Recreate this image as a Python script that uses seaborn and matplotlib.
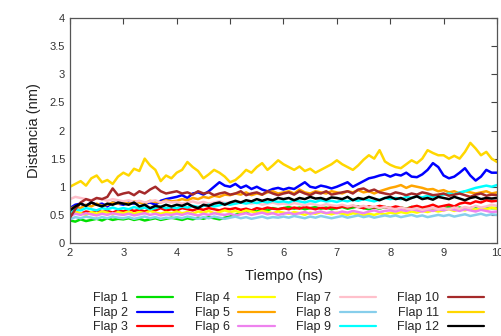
import numpy as np
import pandas as pd
import matplotlib
matplotlib.use('Agg')
import matplotlib.pyplot as plt
import seaborn as sns

# tiempo en ns, paso 0.1
tiempo = np.round(np.arange(2.0, 10.05, 0.1), 1)

flap1 = [0.40, 0.38, 0.42, 0.39, 0.41, 0.43, 0.40, 0.44, 0.41, 0.43,
         0.42, 0.44, 0.41, 0.43, 0.40, 0.42, 0.44, 0.41, 0.43, 0.45,
         0.43, 0.41, 0.44, 0.42, 0.45, 0.43, 0.46, 0.44, 0.42, 0.45,
         0.47, 0.50, 0.53, 0.55, 0.58, 0.56, 0.60, 0.58, 0.62, 0.60,
         0.62, 0.64, 0.61, 0.63, 0.60, 0.62, 0.64, 0.61, 0.63, 0.60,
         0.62, 0.64, 0.61, 0.63, 0.65, 0.62, 0.60, 0.63, 0.61, 0.64,
         0.62, 0.60, 0.63, 0.61, 0.64, 0.62, 0.60, 0.63, 0.61, 0.63,
         0.62, 0.64, 0.61, 0.63, 0.60, 0.62, 0.64, 0.61, 0.63, 0.62,
         0.62]
flap2 = [0.62, 0.68, 0.70, 0.66, 0.72, 0.68, 0.70, 0.65, 0.72, 0.70,
         0.68, 0.72, 0.70, 0.74, 0.70, 0.72, 0.68, 0.75, 0.78, 0.80,
         0.82, 0.85, 0.80, 0.88, 0.90, 0.86, 0.92, 1.00, 1.08, 1.02,
         1.00, 1.05, 0.98, 1.02, 0.96, 1.00, 0.95, 0.92, 0.96, 0.98,
         0.95, 0.98, 0.96, 1.02, 1.08, 1.00, 0.98, 1.02, 1.00, 0.97,
         1.00, 1.04, 1.08, 1.00, 1.05, 1.10, 1.15, 1.17, 1.20, 1.22,
         1.18, 1.22, 1.20, 1.25, 1.18, 1.17, 1.22, 1.30, 1.42, 1.35,
         1.20, 1.15, 1.18, 1.25, 1.33, 1.20, 1.11, 1.18, 1.30, 1.25,
         1.25]
flap3 = [0.50, 0.55, 0.52, 0.56, 0.54, 0.58, 0.55, 0.57, 0.54, 0.58,
         0.56, 0.60, 0.57, 0.59, 0.56, 0.60, 0.58, 0.62, 0.58, 0.60,
         0.58, 0.62, 0.60, 0.58, 0.61, 0.59, 0.62, 0.60, 0.58, 0.61,
         0.60, 0.62, 0.59, 0.61, 0.58, 0.62, 0.60, 0.63, 0.61, 0.60,
         0.62, 0.60, 0.63, 0.61, 0.64, 0.62, 0.60, 0.63, 0.61, 0.64,
         0.62, 0.65, 0.63, 0.66, 0.64, 0.62, 0.65, 0.63, 0.66, 0.64,
         0.62, 0.65, 0.63, 0.60, 0.64, 0.66, 0.63, 0.65, 0.68, 0.64,
         0.66, 0.68, 0.65, 0.70, 0.72, 0.70, 0.74, 0.72, 0.76, 0.74,
         0.75]
flap4 = [0.50, 0.55, 0.53, 0.50, 0.55, 0.52, 0.56, 0.54, 0.51, 0.55,
         0.53, 0.56, 0.52, 0.55, 0.53, 0.57, 0.54, 0.52, 0.55, 0.53,
         0.56, 0.53, 0.55, 0.52, 0.56, 0.54, 0.57, 0.53, 0.55, 0.58,
         0.55, 0.57, 0.54, 0.58, 0.56, 0.54, 0.57, 0.55, 0.53, 0.56,
         0.54, 0.52, 0.55, 0.53, 0.50, 0.54, 0.52, 0.55, 0.53, 0.51,
         0.54, 0.52, 0.50, 0.53, 0.51, 0.49, 0.52, 0.50, 0.53, 0.51,
         0.54, 0.52, 0.55, 0.53, 0.56, 0.54, 0.57, 0.55, 0.58, 0.56,
         0.58, 0.60, 0.57, 0.60, 0.58, 0.61, 0.59, 0.62, 0.60, 0.63,
         0.61]
flap5 = [0.60, 0.65, 0.62, 0.68, 0.65, 0.70, 0.66, 0.68, 0.72, 0.70,
         0.72, 0.70, 0.74, 0.72, 0.70, 0.75, 0.73, 0.72, 0.76, 0.74,
         0.75, 0.78, 0.76, 0.80, 0.78, 0.82, 0.80, 0.84, 0.82, 0.86,
         0.85, 0.88, 0.86, 0.90, 0.85, 0.88, 0.86, 0.90, 0.92, 0.88,
         0.90, 0.92, 0.88, 0.95, 0.90, 0.88, 0.92, 0.90, 0.88, 0.92,
         0.90, 0.88, 0.92, 0.90, 0.94, 0.90, 0.92, 0.88, 0.92, 0.95,
         0.98, 1.00, 1.03, 0.98, 1.02, 1.00, 0.98, 0.95, 0.96, 0.92,
         0.94, 0.90, 0.92, 0.88, 0.92, 0.90, 0.88, 0.90, 0.92, 0.88,
         0.90]
flap6 = [0.48, 0.52, 0.50, 0.53, 0.51, 0.49, 0.52, 0.50, 0.53, 0.51,
         0.50, 0.52, 0.49, 0.51, 0.53, 0.50, 0.52, 0.49, 0.51, 0.50,
         0.52, 0.50, 0.53, 0.51, 0.49, 0.52, 0.50, 0.53, 0.51, 0.50,
         0.52, 0.49, 0.51, 0.53, 0.50, 0.52, 0.54, 0.51, 0.53, 0.50,
         0.52, 0.54, 0.51, 0.53, 0.55, 0.52, 0.54, 0.56, 0.53, 0.55,
         0.53, 0.56, 0.54, 0.57, 0.55, 0.53, 0.56, 0.58, 0.55, 0.57,
         0.58, 0.56, 0.59, 0.57, 0.60, 0.58, 0.56, 0.59, 0.57, 0.60,
         0.58, 0.61, 0.59, 0.57, 0.60, 0.58, 0.56, 0.59, 0.57, 0.55,
         0.56]
flap7 = [0.78, 0.82, 0.80, 0.78, 0.76, 0.80, 0.78, 0.75, 0.78, 0.76,
         0.74, 0.76, 0.73, 0.75, 0.72, 0.74, 0.76, 0.72, 0.74, 0.72,
         0.73, 0.70, 0.72, 0.74, 0.71, 0.73, 0.70, 0.72, 0.74, 0.71,
         0.72, 0.70, 0.73, 0.71, 0.70, 0.72, 0.68, 0.70, 0.72, 0.69,
         0.70, 0.68, 0.71, 0.69, 0.67, 0.70, 0.68, 0.66, 0.69, 0.67,
         0.66, 0.68, 0.65, 0.67, 0.64, 0.66, 0.63, 0.65, 0.62, 0.64,
         0.62, 0.60, 0.63, 0.61, 0.60, 0.62, 0.59, 0.61, 0.63, 0.60,
         0.62, 0.60, 0.63, 0.61, 0.64, 0.62, 0.66, 0.63, 0.65, 0.68,
         0.66]
flap8 = [0.42, 0.46, 0.44, 0.47, 0.45, 0.43, 0.46, 0.44, 0.47, 0.45,
         0.44, 0.46, 0.43, 0.45, 0.47, 0.44, 0.46, 0.43, 0.45, 0.44,
         0.46, 0.44, 0.47, 0.45, 0.43, 0.46, 0.44, 0.47, 0.45, 0.43,
         0.45, 0.47, 0.44, 0.46, 0.43, 0.45, 0.47, 0.44, 0.46, 0.45,
         0.47, 0.45, 0.48, 0.46, 0.44, 0.47, 0.45, 0.48, 0.46, 0.44,
         0.46, 0.48, 0.45, 0.47, 0.49, 0.46, 0.48, 0.45, 0.47, 0.49,
         0.47, 0.49, 0.46, 0.48, 0.50, 0.47, 0.49, 0.46, 0.48, 0.50,
         0.48, 0.50, 0.47, 0.49, 0.51, 0.48, 0.50, 0.52, 0.49, 0.51,
         0.50]
flap9 = [0.55, 0.60, 0.58, 0.62, 0.60, 0.58, 0.62, 0.60, 0.63, 0.60,
         0.62, 0.60, 0.64, 0.61, 0.63, 0.60, 0.62, 0.65, 0.62, 0.64,
         0.62, 0.65, 0.63, 0.66, 0.64, 0.66, 0.68, 0.65, 0.67, 0.70,
         0.68, 0.70, 0.72, 0.70, 0.73, 0.71, 0.74, 0.72, 0.75, 0.73,
         0.74, 0.72, 0.76, 0.74, 0.72, 0.75, 0.73, 0.76, 0.74, 0.75,
         0.73, 0.76, 0.74, 0.77, 0.75, 0.78, 0.76, 0.74, 0.77, 0.80,
         0.78, 0.80, 0.78, 0.82, 0.80, 0.83, 0.81, 0.84, 0.82, 0.85,
         0.86, 0.88, 0.86, 0.90, 0.92, 0.95, 0.98, 1.00, 1.02, 1.00,
         1.03]
flap10 = [0.45, 0.60, 0.72, 0.78, 0.75, 0.80, 0.78, 0.82, 0.97, 0.85,
          0.88, 0.90, 0.85, 0.92, 0.88, 0.95, 1.00, 0.92, 0.88, 0.90,
          0.92, 0.88, 0.90, 0.86, 0.92, 0.88, 0.90, 0.85, 0.88, 0.90,
          0.86, 0.88, 0.92, 0.85, 0.88, 0.90, 0.86, 0.92, 0.88, 0.85,
          0.88, 0.90, 0.86, 0.92, 0.88, 0.85, 0.90, 0.88, 0.92, 0.86,
          0.88, 0.90, 0.92, 0.88, 0.95, 0.97, 0.92, 0.95, 0.90, 0.88,
          0.86, 0.90, 0.88, 0.85, 0.88, 0.86, 0.90, 0.88, 0.85, 0.86,
          0.88, 0.84, 0.86, 0.88, 0.85, 0.82, 0.86, 0.88, 0.84, 0.86,
          0.85]
flap11 = [1.00, 1.05, 1.10, 1.02, 1.15, 1.20, 1.08, 1.12, 1.05, 1.18,
          1.25, 1.20, 1.32, 1.28, 1.50, 1.38, 1.30, 1.10, 1.20, 1.15,
          1.25, 1.30, 1.44, 1.35, 1.28, 1.15, 1.22, 1.30, 1.25, 1.18,
          1.08, 1.12, 1.20, 1.30, 1.25, 1.35, 1.42, 1.30, 1.38, 1.47,
          1.40, 1.35, 1.30, 1.36, 1.28, 1.32, 1.25, 1.30, 1.35, 1.40,
          1.47, 1.40, 1.35, 1.30, 1.38, 1.48, 1.56, 1.50, 1.65, 1.45,
          1.39, 1.35, 1.33, 1.40, 1.47, 1.42, 1.50, 1.65, 1.60, 1.56,
          1.56, 1.50, 1.55, 1.50, 1.62, 1.78, 1.68, 1.56, 1.62, 1.50,
          1.44]
flap12 = [0.58, 0.65, 0.70, 0.66, 0.72, 0.68, 0.65, 0.70, 0.68, 0.72,
          0.70, 0.68, 0.72, 0.65, 0.68, 0.62, 0.66, 0.64, 0.68, 0.65,
          0.68, 0.66, 0.70, 0.65, 0.62, 0.68, 0.66, 0.70, 0.72, 0.68,
          0.72, 0.75, 0.72, 0.76, 0.74, 0.78, 0.75, 0.78, 0.76, 0.80,
          0.78, 0.80, 0.76, 0.80, 0.78, 0.82, 0.79, 0.80, 0.77, 0.81,
          0.80, 0.78, 0.82, 0.76, 0.80, 0.78, 0.82, 0.79, 0.76, 0.80,
          0.82, 0.78, 0.80, 0.76, 0.80, 0.83, 0.78, 0.80, 0.77, 0.82,
          0.80, 0.78, 0.82, 0.79, 0.76, 0.80, 0.82, 0.78, 0.80, 0.79,
          0.80]

nombres = ['Flap %d' % i for i in range(1, 13)]
series = [flap1, flap2, flap3, flap4, flap5, flap6,
          flap7, flap8, flap9, flap10, flap11, flap12]
colores = ['#00e000', '#0000ff', '#ff0000', '#ffff00', '#ffa500', '#ee82ee',
           '#ffc0cb', '#87ceeb', '#00ffff', '#a52a2a', '#ffd700', '#000000']

df = pd.concat([pd.DataFrame({'Tiempo': tiempo, 'Distancia': s, 'Flap': n})
                for n, s in zip(nombres, series)], ignore_index=True)

sns.set_style('white')
plt.rcParams['font.family'] = ['Liberation Sans', 'DejaVu Sans']

fig = plt.figure(figsize=(5.02, 3.36), dpi=100)
ax = fig.add_axes([0.1394, 0.2768, 0.8506, 0.6696])

sns.lineplot(data=df, x='Tiempo', y='Distancia', hue='Flap', hue_order=nombres,
             palette=dict(zip(nombres, colores)), linewidth=1.8, ax=ax,
             estimator=None, legend=False)

ax.set_xlim(2, 10)
ax.set_ylim(0, 4)
ax.set_xticks(range(2, 11))
ax.set_yticks([0, 0.5, 1, 1.5, 2, 2.5, 3, 3.5, 4])
ax.set_yticklabels(['0', '0.5', '1', '1.5', '2', '2.5', '3', '3.5', '4'])
ax.set_xlabel('Tiempo (ns)', fontsize=10.5, color='#222222', labelpad=8)
ax.set_ylabel('Distancia (nm)', fontsize=10.5, color='#222222', labelpad=6)
ax.tick_params(direction='in', top=True, right=True, length=4, width=0.8,
               labelsize=8, colors='#444444', labelcolor='#333333')
for sp in ax.spines.values():
    sp.set_color('#555555')
    sp.set_linewidth(0.9)

handles = [plt.Line2D([], [], color=c, lw=1.6) for c in colores]
fig.legend(handles, nombres, loc='lower center', bbox_to_anchor=(0.575, -0.022),
           ncol=4, frameon=False, markerfirst=False, fontsize=9,
           handlelength=2.9, handletextpad=0.7, columnspacing=1.7,
           labelspacing=0.2, borderpad=0.3)

fig.savefig('out.png', dpi=100)
